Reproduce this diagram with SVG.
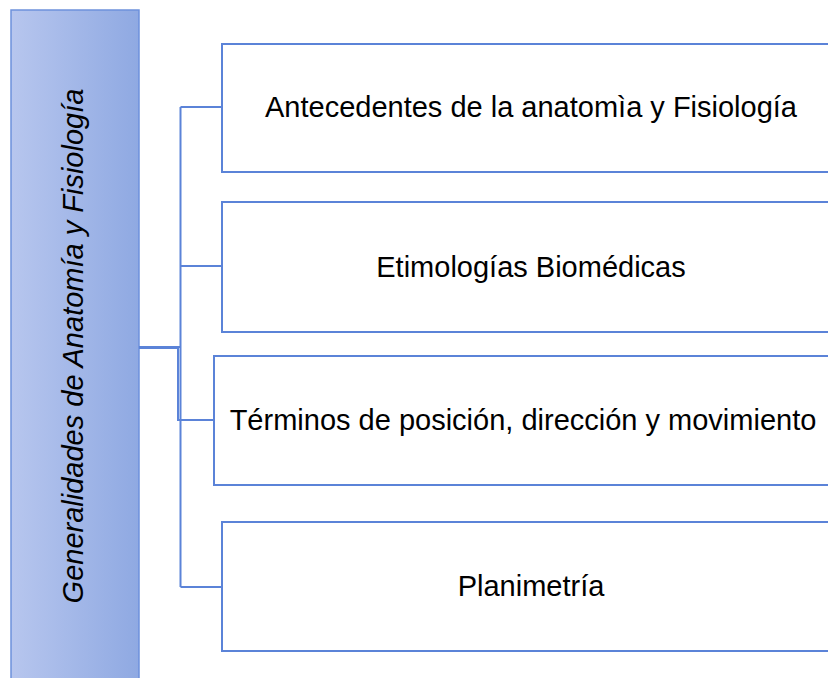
<svg xmlns="http://www.w3.org/2000/svg" width="828" height="678" viewBox="0 0 828 678">
<defs>
<linearGradient id="lg" x1="0" y1="0" x2="1" y2="0">
<stop offset="0" stop-color="#b7c6ee"/>
<stop offset="1" stop-color="#8fa9e2"/>
</linearGradient>
<style>
.box{fill:#fff;stroke:#5b83d8;stroke-width:2}
.lbl{font-family:"Liberation Sans",Arial,sans-serif;font-size:29px;fill:#000;text-anchor:middle}
.con{fill:none;stroke:#5b83d8;stroke-width:2}
</style>
</defs>
<rect width="828" height="678" fill="#fff"/>
<g id="root">
<rect x="11" y="10" width="128" height="680" fill="url(#lg)" stroke="#6d91dc" stroke-width="1.5"/>
<text class="lbl" font-style="italic" font-size="29.5" transform="translate(82.5,346) rotate(-90)">Generalidades de Anatomía y Fisiología</text>
</g>
<g id="connectors">
<path class="con" d="M139,347 H180.5 M180.5,107 V587 M180.5,107 H222 M180.5,266 H222 M180.5,587 H222 M139,348 H178 V420 H214"/>
</g>
<g id="n1">
<rect class="box" x="222" y="44" width="620" height="128"/>
<text class="lbl" x="531" y="117">Antecedentes de la anatomìa y Fisiología</text>
</g>
<g id="n2">
<rect class="box" x="222" y="202" width="620" height="130"/>
<text class="lbl" x="531" y="277">Etimologías Biomédicas</text>
</g>
<g id="n3">
<rect class="box" x="214" y="356" width="620" height="129"/>
<text class="lbl" x="523" y="430">Términos de posición, dirección y movimiento</text>
</g>
<g id="n4">
<rect class="box" x="222" y="522" width="620" height="129"/>
<text class="lbl" x="531" y="596">Planimetría</text>
</g>
</svg>
